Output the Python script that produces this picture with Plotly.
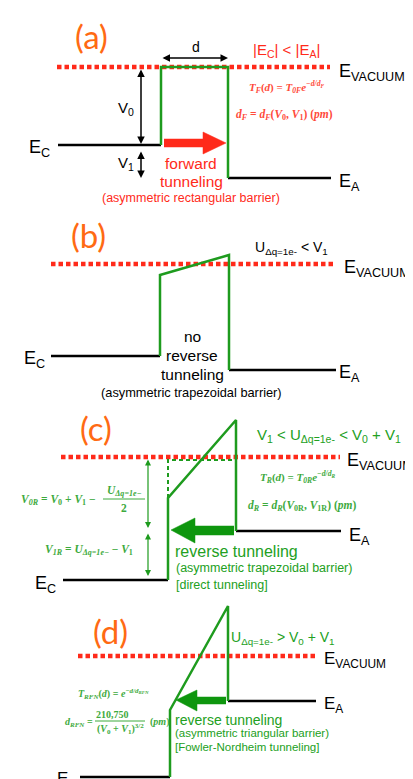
import plotly.graph_objects as go

W, H = 413, 779
RED = "#FF2A1A"
RFORM = "#FF4A3A"
ORANGE = "#FF6A13"
GREEN = "#1E9B1E"
GTXT = "#22A022"
GFORM = "#3DAA3D"
BLACK = "#000000"

# ---------------- diagram geometry (pixel coordinates) ----------------
# panel (a)
vac_a_x = [49, 322]; vac_a_y = [59, 59]
ec_a_x = [50, 153]; ec_a_y = [137, 137]
bar_a_x = [153, 153, 220, 220]; bar_a_y = [137, 59, 59, 170]
ea_a_x = [220, 323]; ea_a_y = [170, 170]
# panel (b)
vac_b_x = [43, 325]; vac_b_y = [256, 256]
ec_b_x = [43, 152]; ec_b_y = [348, 348]
bar_b_x = [152, 152, 221, 221]; bar_b_y = [348, 267, 247, 362]
ea_b_x = [221, 328]; ea_b_y = [362, 362]
# panel (c)
vac_c_x = [53, 332]; vac_c_y = [449, 449]
ec_c_x = [55, 160]; ec_c_y = [572, 572]
bar_c_x = [160, 160, 228, 228]; bar_c_y = [572, 490, 412, 523]
dash_c_x = [160, 160, 228]; dash_c_y = [490, 452, 452]
ea_c_x = [228, 333]; ea_c_y = [523, 523]
# panel (d)
vac_d_x = [70, 308]; vac_d_y = [648, 648]
ec_d_x = [72, 162]; ec_d_y = [769, 769]
bar_d_x = [162, 162, 220, 220]; bar_d_y = [769, 702, 598, 693]
ea_d_x = [220, 308]; ea_d_y = [693, 693]

# block arrows (polygons)
red_arrow_x = [156, 195, 195, 218, 195, 195, 156]
red_arrow_y = [131, 131, 124, 135, 146, 139, 139]
gc_arrow_x = [226, 187, 187, 163, 187, 187, 226]
gc_arrow_y = [518, 518, 510, 522, 535, 527, 527]
gd_arrow_x = [218, 189, 189, 168, 189, 189, 218]
gd_arrow_y = [689, 689, 682, 692, 703, 696, 696]

fig = go.Figure()

def line(xs, ys, color, width=2.5, dash=None):
    fig.add_trace(go.Scatter(x=xs, y=ys, mode="lines",
                             line=dict(color=color, width=width, dash=dash),
                             hoverinfo="skip", showlegend=False))

def poly(xs, ys, color):
    fig.add_trace(go.Scatter(x=xs, y=ys, mode="lines", fill="toself",
                             fillcolor=color, line=dict(color=color, width=0.5),
                             hoverinfo="skip", showlegend=False))

VACDASH = "4.5px,3px"
for vx, vy in [(vac_a_x, vac_a_y), (vac_b_x, vac_b_y), (vac_c_x, vac_c_y), (vac_d_x, vac_d_y)]:
    line(vx, vy, RED, 4.5, VACDASH)

for lx, ly in [(ec_a_x, ec_a_y), (ea_a_x, ea_a_y), (ec_b_x, ec_b_y), (ea_b_x, ea_b_y),
               (ec_c_x, ec_c_y), (ea_c_x, ea_c_y), (ec_d_x, ec_d_y), (ea_d_x, ea_d_y)]:
    line(lx, ly, BLACK, 2.5)

for bx, by in [(bar_a_x, bar_a_y), (bar_b_x, bar_b_y), (bar_c_x, bar_c_y), (bar_d_x, bar_d_y)]:
    line(bx, by, GREEN, 2.5)
line(dash_c_x, dash_c_y, GREEN, 2, "4px,3px")

poly(red_arrow_x, red_arrow_y, RED)
poly(gc_arrow_x, gc_arrow_y, "#0E960E")
poly(gd_arrow_x, gd_arrow_y, "#0E960E")

# fraction bars
line([95, 137], [491, 491], GFORM, 1)
line([87, 137], [713, 713], GFORM, 1)

ann = []

def txt(x, y, s, size, color=BLACK, family="Liberation Sans, Arial", xanchor="center"):
    ann.append(dict(x=x, y=y, xref="x", yref="y", text=s, showarrow=False,
                    xanchor=xanchor, yanchor="middle", borderpad=0,
                    font=dict(size=size, color=color, family=family)))

def darrow(x0, y0, x1, y1, color=BLACK, width=1.5, size=1.0):
    ann.append(dict(x=x1, y=y1, ax=x0, ay=y0, xref="x", yref="y", axref="x", ayref="y",
                    text="", showarrow=True, arrowhead=2, arrowside="end+start",
                    arrowsize=size, arrowwidth=width, arrowcolor=color))

LABEL = "Lato, Open Sans, sans-serif"
MATH = "Liberation Serif, DejaVu Serif, serif"

# ---- panel (a)
txt(83, 28, "(a)", 33, ORANGE, LABEL)
txt(278, 42, "|E<sub>C</sub>| < |E<sub>A</sub>|", 15, RED)
txt(188, 39, "d", 14)
darrow(153, 50, 220, 50)
darrow(133, 60, 133, 136)
darrow(133, 142, 133, 170)
txt(118, 100, "V<sub>0</sub>", 15)
txt(118, 155, "V<sub>1</sub>", 15)
txt(330, 64, "E<sub>VACUUM</sub>", 18, xanchor="left")
txt(20, 140, "E<sub>C</sub>", 18, xanchor="left")
txt(330, 174, "E<sub>A</sub>", 18, xanchor="left")
txt(279, 79, "<b><i>T<sub>F</sub></i>(<i>d</i>) = <i>T<sub>0F</sub>e<sup>−d/d<sub>F</sub></sup></i></b>", 11, RFORM, MATH)
txt(276, 107, "<b><i>d<sub>F</sub></i> = <i>d<sub>F</sub></i>(<i>V</i><sub>0</sub>, <i>V</i><sub>1</sub>) (<i>pm</i>)</b>", 11.5, RFORM, MATH)
txt(183, 155, "forward", 15.5, RED)
txt(183, 173, "tunneling", 15.5, RED)
txt(183, 190, "(asymmetric rectangular barrier)", 12.5, RED)

# ---- panel (b)
txt(80, 227, "(b)", 33, ORANGE, LABEL)
txt(283, 240, "U<sub>Δq=1e-</sub> < V<sub>1</sub>", 14)
txt(335, 260, "E<sub>VACUUM</sub>", 18, xanchor="left")
txt(15, 351, "E<sub>C</sub>", 18, xanchor="left")
txt(330, 365, "E<sub>A</sub>", 18, xanchor="left")
txt(184, 328, "no", 15.5)
txt(184, 347, "reverse", 15.5)
txt(184, 366, "tunneling", 15.5)
txt(183, 384, "(asymmetric trapezoidal barrier)", 12.8)

# ---- panel (c)
txt(88, 420, "(c)", 33, ORANGE, LABEL)
txt(321, 427, "V<sub>1</sub> < U<sub>Δq=1e-</sub> < V<sub>0</sub> + V<sub>1</sub>", 15, GTXT)
txt(338, 453, "E<sub>VACUUM</sub>", 18, xanchor="left")
txt(290, 469, "<b><i>T<sub>R</sub></i>(<i>d</i>) = <i>T<sub>0R</sub>e<sup>−d/d<sub>R</sub></sup></i></b>", 11, GFORM, MATH)
txt(294, 498, "<b><i>d<sub>R</sub></i> = <i>d<sub>R</sub></i>(<i>V</i><sub>0R</sub>, <i>V</i><sub>1R</sub>) (<i>pm</i>)</b>", 11.5, GFORM, MATH)
txt(50, 492, "<b><i>V<sub>0R</sub></i> = <i>V</i><sub>0</sub> + <i>V</i><sub>1</sub> −</b>", 11.5, GFORM, MATH)
txt(116, 483, "<b><i>U<sub>Δq=1e−</sub></i></b>", 11.5, GFORM, MATH)
txt(116, 500, "<b>2</b>", 11.5, GFORM, MATH)
txt(81, 542, "<b><i>V<sub>1R</sub></i> = <i>U<sub>Δq=1e−</sub></i> − <i>V</i><sub>1</sub></b>", 11.5, GFORM, MATH)
darrow(140, 450, 140, 520, GREEN, 1.2, 1.0)
darrow(140, 524, 140, 568, GREEN, 1.2, 1.0)
txt(340, 528, "E<sub>A</sub>", 18, xanchor="left")
txt(26, 576, "E<sub>C</sub>", 18, xanchor="left")
txt(166, 543, "reverse tunneling", 16, GTXT, xanchor="left")
txt(167, 560, "(asymmetric trapezoidal barrier)", 12.5, GTXT, xanchor="left")
txt(167, 577, "[direct tunneling]", 12.5, GTXT, xanchor="left")

# ---- panel (d)
txt(102, 623, "(d)", 33, ORANGE, LABEL)
txt(222, 630, "U<sub>Δq=1e-</sub> > V<sub>0</sub> + V<sub>1</sub>", 14, GTXT, xanchor="left")
txt(315, 652, "E<sub>VACUUM</sub>", 17, xanchor="left")
txt(105, 686, "<b><i>T<sub>RFN</sub></i>(<i>d</i>) = <i>e<sup>−d/d<sub>RFN</sub></sup></i></b>", 10, GFORM, MATH)
txt(71, 714, "<b><i>d<sub>RFN</sub></i> =</b>", 10, GFORM, MATH)
txt(104, 706, "<b>210,750</b>", 10, GFORM, MATH)
txt(112, 721, "<b>(<i>V</i><sub>0</sub> + <i>V</i><sub>1</sub>)<sup>3/2</sup></b>", 10, GFORM, MATH)
txt(151, 714, "<b>(<i>pm</i>)</b>", 10, GFORM, MATH)
txt(315, 697, "E<sub>A</sub>", 17, xanchor="left")
txt(48, 772, "E<sub>C</sub>", 17, xanchor="left")
txt(166, 712, "reverse tunneling", 14, GTXT, xanchor="left")
txt(166, 725, "(asymmetric triangular barrier)", 11.5, GTXT, xanchor="left")
txt(166, 739, "[Fowler-Nordheim tunneling]", 11.5, GTXT, xanchor="left")

fig.update_layout(
    width=W, height=H, margin=dict(l=0, r=0, t=0, b=0),
    paper_bgcolor="white", plot_bgcolor="white",
    xaxis=dict(range=[0, W], visible=False, fixedrange=True),
    yaxis=dict(range=[H, 0], visible=False, fixedrange=True),
    annotations=ann, showlegend=False,
)
fig.write_html("out.html", config={"displayModeBar": False})
